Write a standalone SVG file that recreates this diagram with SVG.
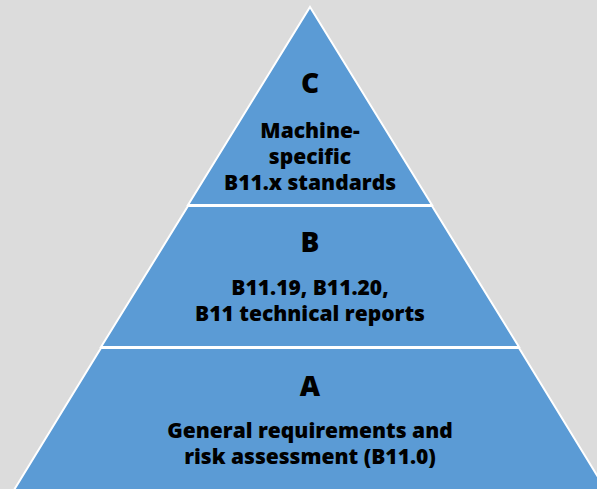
<svg xmlns="http://www.w3.org/2000/svg" width="597" height="489" viewBox="0 0 597 489">
  <style>
    .tier { fill: #5b9bd5; stroke: #ffffff; stroke-width: 2; stroke-linejoin: miter; }
    .letter { font-family: "Open Sans", "Liberation Sans", sans-serif; font-weight: 800; font-size: 28px; fill: #000; text-anchor: middle; }
    .label { font-family: "Open Sans", "Liberation Sans", sans-serif; font-weight: 800; font-size: 21px; fill: #000; text-anchor: middle; }
  </style>
  <rect width="597" height="489" fill="#dcdcdc"/>
  <g id="tier-c">
    <polygon class="tier" points="310,7 432,205 188,205"/>
    <text class="letter" x="310" y="93">C</text>
    <text class="label" x="310" y="138">Machine-</text>
    <text class="label" x="310" y="164">specific</text>
    <text class="label" x="310" y="190">B11.x standards</text>
  </g>
  <g id="tier-b">
    <polygon class="tier" points="188,206 432,206 519,347 101,347"/>
    <text class="letter" x="310" y="252">B</text>
    <text class="label" x="310" y="295">B11.19, B11.20,</text>
    <text class="label" x="310" y="321">B11 technical reports</text>
  </g>
  <g id="tier-a">
    <polygon class="tier" points="101,348 519,348 606,490 14,490"/>
    <text class="letter" x="310" y="396">A</text>
    <text class="label" x="310" y="438">General requirements and</text>
    <text class="label" x="310" y="464">risk assessment (B11.0)</text>
  </g>
</svg>
